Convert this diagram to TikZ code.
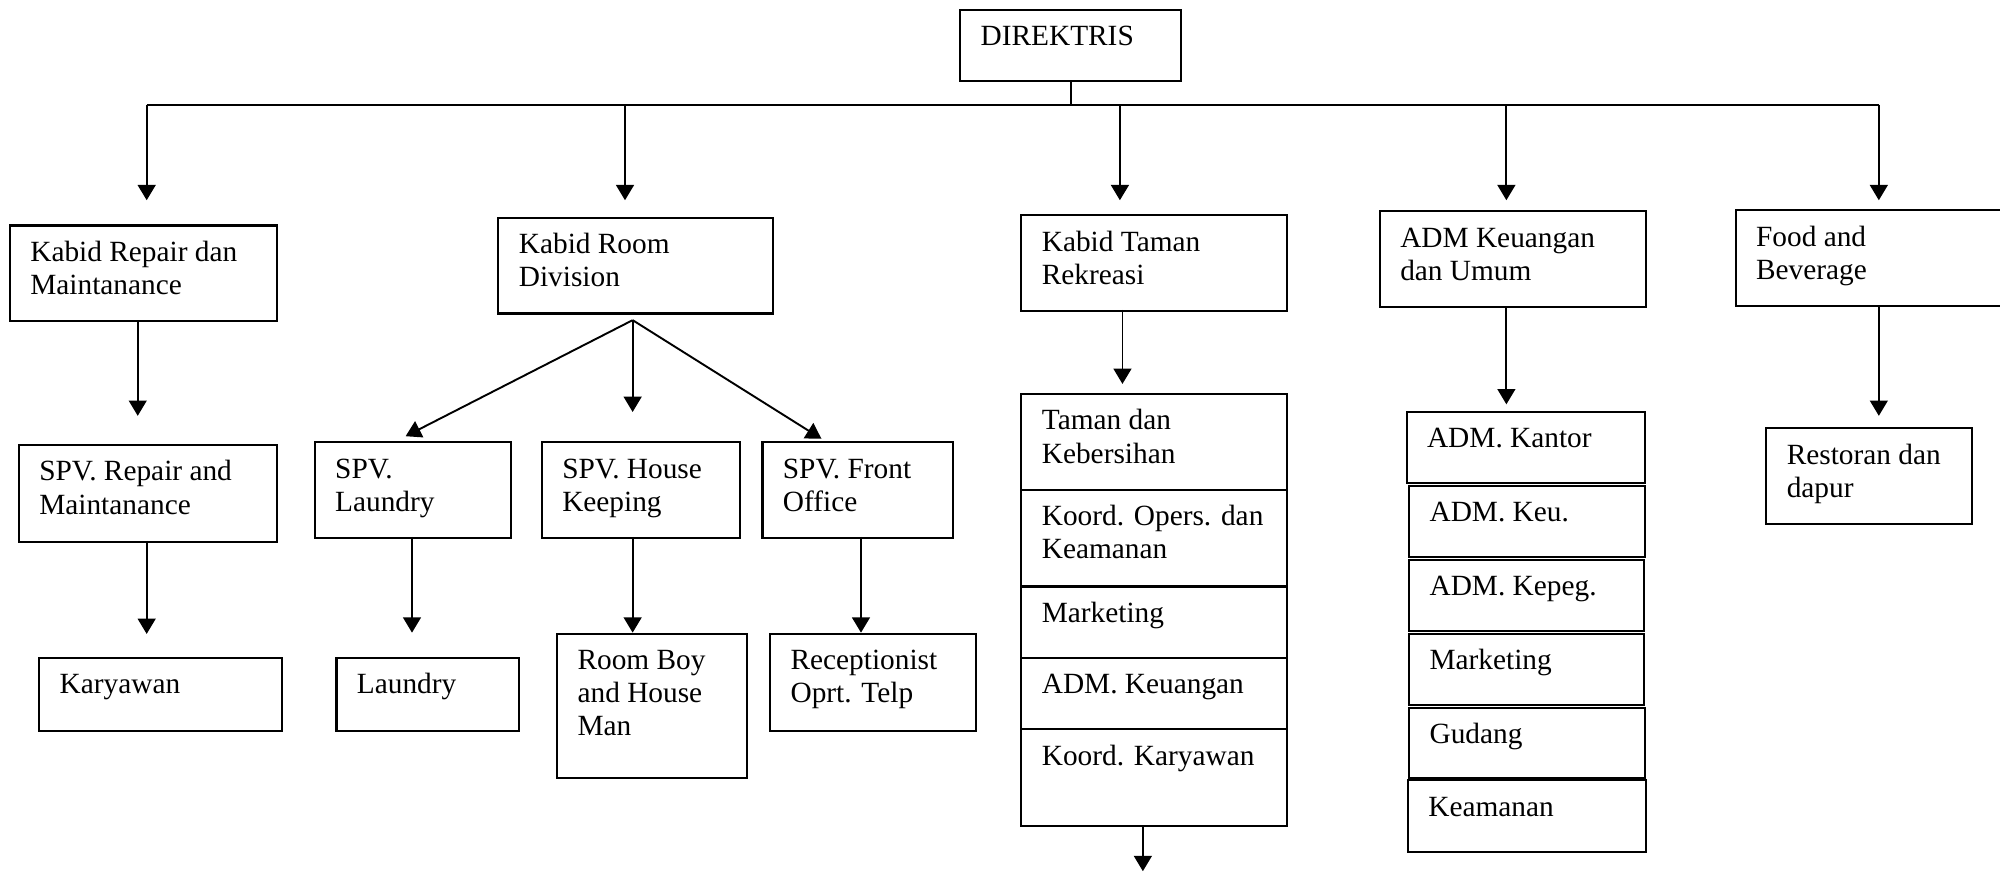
\documentclass[tikz,border=0pt]{standalone}
\usepackage{fontspec}
\setmainfont{Liberation Serif}
\usetikzlibrary{arrows.meta}
\tikzset{
  x=0.5pt, y=-0.5pt,
  box/.style={draw, line width=0.8pt, anchor=north west, inner sep=0pt,
    font=\fontsize{11.5}{13}\selectfont},
  arr/.style={line width=0.75pt, -{Triangle[length=6pt,width=7pt]}},
  ln/.style={line width=0.75pt},
}
\newcommand{\obox}[6]{%
  \node[box, minimum width={(#4-#2)*0.5pt}, minimum height={(#5-#3)*0.5pt}] (#1) at (#2,#3)
  {\parbox[c][\dimexpr(#5pt-#3pt)/2\relax][t]{\dimexpr(#4pt-#2pt)/2\relax}{\raggedright\leftskip=8pt\vspace*{5pt}\strut #6}};%
}
\begin{document}
\begin{tikzpicture}
\clip (0,0) rectangle (1568,684);
\fill[white] (0,0) rectangle (1568,684);
% top
\obox{dir}{752}{7}{925}{63}{DIREKTRIS}
\obox{kr}{7}{176}{216}{251}{Kabid Repair dan\\Maintanance}
\obox{krd}{390}{170}{605}{245}{Kabid Room\\Division}
\obox{kt}{800}{168}{1008}{243}{Kabid Taman\\Rekreasi}
\obox{adm}{1081}{165}{1290}{240}{ADM Keuangan\\dan Umum}
\obox{fb}{1360}{164}{1580}{239}{Food and\\Beverage}
% second level
\obox{spvr}{14}{348}{216}{424}{SPV. Repair and\\Maintanance}
\obox{kary}{30}{515}{220}{572}{Karyawan}
\obox{spvl}{246}{346}{400}{421}{SPV.\\Laundry}
\obox{spvh}{424}{346}{579}{421}{SPV. House\\Keeping}
\obox{spvf}{597}{346}{746}{421}{SPV. Front\\Office}
\obox{laun}{263}{515}{406}{572}{Laundry}
\obox{rb}{436}{496}{585}{609}{Room Boy\\and House\\Man}
\obox{rec}{603}{496}{764}{572}{Receptionist\\Oprt. Telp}
% Taman stack
\obox{t1}{800}{308}{1008}{383}{Taman dan\\Kebersihan}
\obox{t2}{800}{383}{1008}{459}{Koord. Opers. dan\\Keamanan}
\obox{t3}{800}{459}{1008}{515}{Marketing}
\obox{t4}{800}{515}{1008}{571}{ADM. Keuangan}
\obox{t5}{800}{571}{1008}{647}{Koord. Karyawan}
% ADM stack
\obox{a1}{1102}{322}{1289}{378}{ADM. Kantor}
\obox{a2}{1104}{380}{1289}{436}{ADM. Keu.}
\obox{a3}{1104}{438}{1288}{494}{ADM. Kepeg.}
\obox{a4}{1104}{496}{1288}{552}{Marketing}
\obox{a5}{1104}{554}{1289}{609}{Gudang}
\obox{a6}{1103}{611}{1290}{667}{Keamanan}
% F&B
\obox{rest}{1384}{335}{1545}{410}{Restoran dan\\dapur}

% coordinates
\coordinate (busL) at (115,82);
\coordinate (busR) at (1473,82);
\coordinate (b2) at (490,82);
\coordinate (b3) at (878,82);
\coordinate (b4) at (1181,82);
\coordinate (e1) at (115,157);
\coordinate (e2) at (490,157);
\coordinate (e3) at (878,157);
\coordinate (e4) at (1181,157);
\coordinate (e5) at (1473,157);
\coordinate (s1) at (108,251);
\coordinate (f1) at (108,326);
\coordinate (s2) at (115,424);
\coordinate (f2) at (115,497);
\coordinate (apex) at (496,251);
\coordinate (fl) at (318,342);
\coordinate (fm) at (496,323);
\coordinate (fr) at (644,344);
\coordinate (s3) at (323,421);
\coordinate (f3) at (323,496);
\coordinate (s4) at (496,421);
\coordinate (f4) at (496,496);
\coordinate (s5) at (675,421);
\coordinate (f5) at (675,496);
\coordinate (s6) at (880,243);
\coordinate (f6) at (880,301);
\coordinate (s7) at (896,647);
\coordinate (f7) at (896,683);
\coordinate (s8) at (1181,240);
\coordinate (f8) at (1181,317);
\coordinate (s9) at (1473,240);
\coordinate (f9) at (1473,326);

% connectors
\draw[ln] (dir.south) -- (dir.south |- busL);
\draw[ln] (busL) -- (busR);
\draw[arr] (busL) -- (e1);
\draw[arr] (b2) -- (e2);
\draw[arr] (b3) -- (e3);
\draw[arr] (b4) -- (e4);
\draw[arr] (busR) -- (e5);
\draw[arr] (s1) -- (f1);
\draw[arr] (s2) -- (f2);
\draw[arr] (apex) -- (fl);
\draw[arr] (apex) -- (fm);
\draw[arr] (apex) -- (fr);
\draw[arr] (s3) -- (f3);
\draw[arr] (s4) -- (f4);
\draw[arr] (s5) -- (f5);
\draw[arr] (s6) -- (f6);
\draw[arr] (s7) -- (f7);
\draw[arr] (s8) -- (f8);
\draw[arr] (s9) -- (f9);
\end{tikzpicture}
\end{document}
